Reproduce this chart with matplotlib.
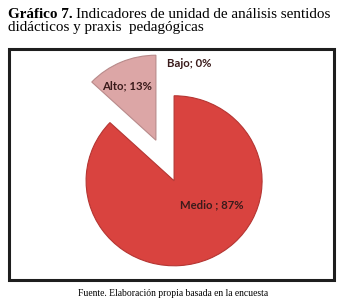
import matplotlib
matplotlib.use("Agg")
import matplotlib.pyplot as plt
from matplotlib.patches import Rectangle
import numpy as np

# data
categories = ["Medio ", "Alto", "Bajo"]
values = [87, 13, 0]
colors = ["#d9433f", "#dca6a6", "#cfcfcf"]
explode = [0.26, 0.26, 0.0]

fig = plt.figure(figsize=(3.42, 3.03), dpi=100)
W, H = 342, 303

# title (bold part + normal part)
t1 = fig.text(8 / W, 1 - 17.5 / H, "Gráfico 7.", family="Liberation Serif",
              fontsize=10.9, fontweight="bold", va="baseline", ha="left")
fig.canvas.draw()
bb = t1.get_window_extent()
fig.text((bb.x1 + 3) / W, 1 - 17.5 / H, "Indicadores de unidad de análisis sentidos",
         family="Liberation Serif", fontsize=10.9, va="baseline", ha="left")
fig.text(8 / W, 1 - 30.5 / H, "didácticos y praxis  pedagógicas",
         family="Liberation Serif", fontsize=10.9, va="baseline", ha="left")

# chart frame
fig.patches.append(Rectangle((8.5 / W, 1 - 279.5 / H), 325 / W, 231 / H,
                             transform=fig.transFigure, fill=False,
                             edgecolor="#1e1e1e", linewidth=2.2))

# pie axes: interior of the frame
ax = fig.add_axes([10 / W, 1 - 278 / H, 322 / W, 228 / H])
wedges, _ = ax.pie(values, colors=colors, explode=explode, startangle=90,
                   counterclock=False, radius=1.0,
                   wedgeprops=dict(linewidth=0.8, edgecolor="#b53532"))
wedges[1].set_edgecolor("#b88a8a")
wedges[2].set_visible(False)
ax.set_aspect("auto")
cx_px, cy_px = 165, 160.5
sx, sy = 88.0, 85.0
ax.set_xlim(-(cx_px - 10) / sx, (332 - cx_px) / sx)
ax.set_ylim(-(278 - cy_px) / sy, (cy_px - 50) / sy)
ax.axis("off")

# data labels "Categoria; xx%"
label_style = dict(family="Lato", fontsize=8.2, fontweight="bold",
                   color="#3a1b1b", ha="center", va="center")
offsets = [(0.43, -0.28), (-0.33, 0.64), (0.28, 1.14)]
for w, cat, v, (dx, dy) in zip(wedges, categories, values, offsets):
    c = w.center
    ax.text(c[0] + dx, c[1] + dy, f"{cat}; {v}%", **label_style)

# source note
fig.text(173 / W, 1 - 296 / H, "Fuente. Elaboración propia basada en la encuesta",
         family="Liberation Serif", fontsize=6.9, ha="center", va="baseline")

fig.savefig("out.png", dpi=100)
